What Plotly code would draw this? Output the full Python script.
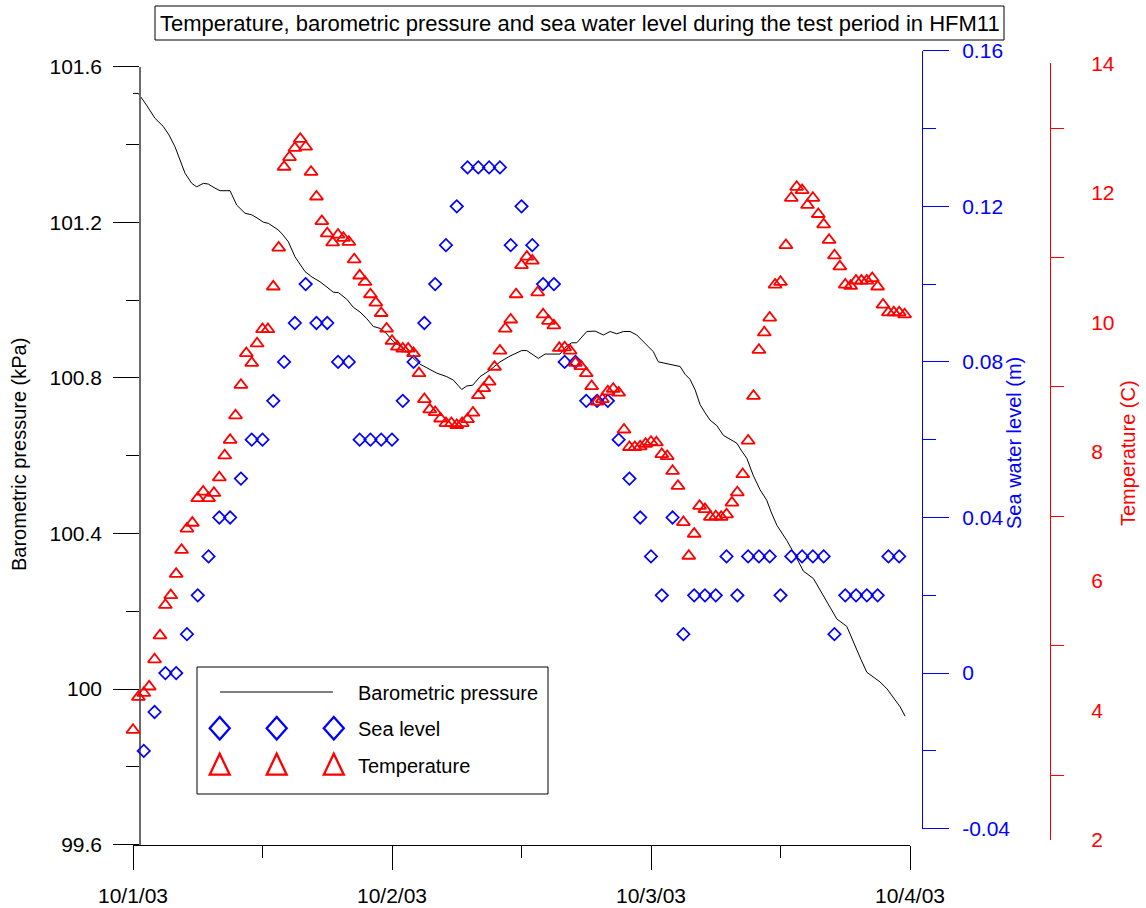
import pandas as pd
import plotly.graph_objects as go

# ---------------- data ----------------
START = pd.Timestamp("2003-10-01 00:00")

# Barometric pressure (kPa), logged as a trace: hours since start / value
pressure_hours = [
    0.0, 0.5, 1.3, 2.04, 2.81, 3.34, 3.89, 4.36, 4.82, 5.44, 5.9, 6.52, 6.98, 7.51,
    8.06, 8.99, 9.61, 10.38, 11.0, 11.49, 12.08, 12.54, 12.97, 13.47, 13.9, 14.39,
    15.01, 15.48, 15.94, 16.59, 17.33, 17.98, 18.56, 19.03, 19.81, 20.42, 21.04,
    21.66, 22.27, 22.89, 23.45, 24.12, 24.75, 25.37, 25.95, 26.6, 27.68, 28.15,
    29.07, 29.69, 30.46, 30.93, 31.48, 32.16, 33.09, 34.01, 34.94, 36.02, 36.49,
    37.07, 37.56, 38.18, 39.57, 40.19, 40.65, 41.12, 42.05, 42.82, 43.59, 44.21,
    44.83, 45.44, 46.06, 46.68, 47.61, 48.22, 48.68, 49.46, 50.7, 51.16, 51.62,
    52.09, 52.55, 53.01, 53.48, 54.1, 54.71, 55.33, 55.95, 56.35, 56.88, 57.46,
    58.11, 58.73, 59.13, 59.66, 60.58, 61.35, 62.12, 63.05, 63.98, 64.6, 65.22,
    66.14, 66.54, 67.07, 67.47, 68.0, 69.23, 69.88, 70.46, 71.09, 71.55,
]
pressure_kpa = [
    101.531, 101.531, 101.499, 101.467, 101.446, 101.424, 101.394, 101.360, 101.326,
    101.300, 101.291, 101.300, 101.298, 101.289, 101.281, 101.281, 101.244, 101.223,
    101.219, 101.211, 101.200, 101.197, 101.190, 101.180, 101.167, 101.150, 101.111,
    101.090, 101.073, 101.059, 101.047, 101.033, 101.020, 101.019, 101.002, 100.981,
    100.969, 100.952, 100.932, 100.927, 100.915, 100.893, 100.882, 100.868, 100.851,
    100.835, 100.820, 100.812, 100.803, 100.794, 100.770, 100.779, 100.781, 100.803,
    100.820, 100.841, 100.856, 100.870, 100.870, 100.859, 100.850, 100.861, 100.861,
    100.882, 100.890, 100.890, 100.919, 100.920, 100.910, 100.919, 100.913, 100.919,
    100.919, 100.910, 100.884, 100.867, 100.841, 100.837, 100.829, 100.809, 100.796,
    100.769, 100.731, 100.710, 100.691, 100.677, 100.652, 100.642, 100.632, 100.614,
    100.593, 100.550, 100.512, 100.485, 100.455, 100.421, 100.382, 100.344, 100.303,
    100.284, 100.239, 100.211, 100.180, 100.161, 100.134, 100.102, 100.075, 100.043,
    100.018, 100.000, 99.979, 99.954, 99.930,
]

# Sea water level (m), hourly from 01:00 on 10/1/03
sea_level_m = [
    -0.02, -0.01, 0.00, 0.00, 0.01, 0.02, 0.03, 0.04, 0.04, 0.05,
    0.06, 0.06, 0.07, 0.08, 0.09, 0.10, 0.09, 0.09, 0.08, 0.08,
    0.06, 0.06, 0.06, 0.06, 0.07, 0.08, 0.09, 0.10, 0.11, 0.12,
    0.13, 0.13, 0.13, 0.13, 0.11, 0.12, 0.11, 0.10, 0.10, 0.08,
    0.08, 0.07, 0.07, 0.07, 0.06, 0.05, 0.04, 0.03, 0.02, 0.04,
    0.01, 0.02, 0.02, 0.02, 0.03, 0.02, 0.03, 0.03, 0.03, 0.02,
    0.03, 0.03, 0.03, 0.03, 0.01, 0.02, 0.02, 0.02, 0.02, 0.03, 0.03,
]

# Temperature (C), every 30 minutes from 00:00 on 10/1/03
temperature_c = [
    3.70, 4.21, 4.27, 4.37, 4.79, 5.16, 5.63, 5.78, 6.11, 6.48,
    6.81, 6.90, 7.28, 7.38, 7.28, 7.36, 7.60, 7.94, 8.18, 8.56,
    9.03, 9.52, 9.37, 9.67, 9.89, 9.89, 10.55, 11.15, 12.40, 12.55,
    12.69, 12.83, 12.71, 12.32, 11.94, 11.56, 11.37, 11.23, 11.35, 11.30,
    11.24, 10.97, 10.72, 10.62, 10.43, 10.30, 10.14, 9.90, 9.71, 9.62,
    9.59, 9.59, 9.52, 9.21, 8.81, 8.65, 8.61, 8.51, 8.44, 8.44,
    8.41, 8.44, 8.50, 8.60, 8.87, 8.98, 9.08, 9.31, 9.56, 9.90,
    10.04, 10.43, 10.88, 11.01, 10.95, 10.46, 10.12, 10.02, 9.95, 9.60,
    9.61, 9.56, 9.37, 9.32, 9.21, 9.01, 8.77, 8.81, 8.93, 8.97,
    8.91, 8.34, 8.07, 8.07, 8.08, 8.12, 8.15, 8.14, 7.96, 7.93,
    7.70, 7.47, 6.91, 6.39, 6.73, 7.16, 7.11, 6.99, 7.00, 6.99,
    7.03, 7.21, 7.37, 7.65, 8.17, 8.86, 9.57, 9.84, 10.07, 10.58,
    10.62, 11.19, 11.92, 12.09, 12.04, 11.81, 11.92, 11.67, 11.51, 11.27,
    11.03, 10.86, 10.58, 10.56, 10.64, 10.64, 10.64, 10.68, 10.55, 10.27,
    10.15, 10.15, 10.15, 10.12,
]

date_ticks = ["2003-10-01", "2003-10-02", "2003-10-03", "2003-10-04"]
date_labels = ["10/1/03", "10/2/03", "10/3/03", "10/4/03"]
half_day_ticks = ["2003-10-01 12:00", "2003-10-02 12:00", "2003-10-03 12:00"]

pressure_ticks = [99.6, 100.0, 100.4, 100.8, 101.2, 101.6]
pressure_labels = ["99.6", "100", "100.4", "100.8", "101.2", "101.6"]
pressure_minor = [99.8, 100.2, 100.6, 101.0, 101.4]

sea_ticks = [-0.04, 0.0, 0.04, 0.08, 0.12, 0.16]
sea_labels = ["-0.04", "0", "0.04", "0.08", "0.12", "0.16"]
sea_minor = [-0.02, 0.02, 0.06, 0.10, 0.14]

temp_ticks = [2, 4, 6, 8, 10, 12, 14]
temp_labels = ["2", "4", "6", "8", "10", "12", "14"]
temp_minor = [3, 5, 7, 9, 11, 13]

# ---------------- layout helpers ----------------
W, H = 1146, 908
FONT = "Arial, Liberation Sans, sans-serif"
BLUE = "#0000ff"
RED = "#ff0000"


def px(x):
    return x / W


def py(y):
    return 1 - y / H


pressure_times = [START + pd.Timedelta(hours=h) for h in pressure_hours]
sea_times = pd.date_range(START + pd.Timedelta(hours=1), periods=len(sea_level_m), freq="1h")
temp_times = pd.date_range(START, periods=len(temperature_c), freq="30min")

fig = go.Figure()

fig.add_trace(go.Scatter(
    x=pressure_times, y=pressure_kpa, mode="lines",
    line=dict(color="black", width=1), xaxis="x", yaxis="y",
    showlegend=False, hoverinfo="skip", cliponaxis=False,
))
fig.add_trace(go.Scatter(
    x=sea_times, y=sea_level_m, mode="markers",
    marker=dict(symbol="diamond-open", size=9.5, color=BLUE, line=dict(color=BLUE, width=1.7)),
    xaxis="x", yaxis="y2", showlegend=False, hoverinfo="skip", cliponaxis=False,
))
fig.add_trace(go.Scatter(
    x=temp_times, y=temperature_c, mode="markers",
    marker=dict(symbol="triangle-up-open", size=11.5, color=RED, line=dict(color=RED, width=1.8)),
    xaxis="x", yaxis="y3", showlegend=False, hoverinfo="skip", cliponaxis=False,
))

tickfont = dict(family=FONT, size=21)

fig.update_layout(
    width=W, height=H,
    margin=dict(l=0, r=0, t=0, b=0, autoexpand=False),
    paper_bgcolor="white",
    plot_bgcolor="rgba(0,0,0,0)",
    font=dict(family=FONT, color="black"),
    xaxis=dict(
        type="date", range=[date_ticks[0], date_ticks[-1]],
        domain=[px(133), px(910)], anchor="y", automargin=False,
        showline=True, linecolor="black", linewidth=1,
        ticks="outside", ticklen=24, tickwidth=1, tickcolor="black",
        tickvals=date_ticks, ticktext=date_labels,
        minor=dict(tickvals=half_day_ticks, ticks="outside", ticklen=12,
                   tickcolor="black", showgrid=False),
        showgrid=False, zeroline=False, tickfont=tickfont,
        ticklabelstandoff=8,
    ),
    yaxis=dict(
        range=[99.6, 101.6], domain=[py(844.6), py(66.6)],
        anchor="free", position=px(140), side="left", automargin=False,
        showline=True, linecolor="#6a6a6a", linewidth=1.5,
        ticks="outside", ticklen=26, tickwidth=1, tickcolor="black",
        tickvals=pressure_ticks, ticktext=pressure_labels,
        minor=dict(tickvals=pressure_minor, ticks="outside", ticklen=13,
                   tickcolor="black", showgrid=False),
        showgrid=False, zeroline=False, tickfont=tickfont,
        ticklabelstandoff=7,
    ),
    yaxis2=dict(
        range=[-0.04, 0.16], domain=[py(828.7), py(50.7)],
        anchor="free", position=px(922), side="right", automargin=False,
        showline=True, linecolor=BLUE, linewidth=1,
        ticks="outside", ticklen=26, tickwidth=1, tickcolor=BLUE,
        tickvals=sea_ticks, ticktext=sea_labels,
        minor=dict(tickvals=sea_minor, ticks="outside", ticklen=13,
                   tickcolor=BLUE, showgrid=False),
        showgrid=False, zeroline=False, tickfont=dict(tickfont, color=BLUE),
        ticklabelstandoff=9,
    ),
    yaxis3=dict(
        range=[2, 14], domain=[py(840), py(63.3)],
        anchor="free", position=px(1050), side="right", automargin=False,
        showline=True, linecolor=RED, linewidth=1,
        ticks="outside", ticklen=26, tickwidth=1, tickcolor="rgba(0,0,0,0)",
        tickvals=temp_ticks, ticktext=temp_labels,
        minor=dict(tickvals=temp_minor, ticks="outside", ticklen=13,
                   tickcolor=RED, showgrid=False),
        showgrid=False, zeroline=False, tickfont=dict(tickfont, color=RED),
        ticklabelstandoff=10,
    ),
)

shapes = []
annotations = []

# title box
shapes.append(dict(type="rect", xref="paper", yref="paper",
                   x0=px(155), x1=px(1004), y0=py(40), y1=py(6),
                   line=dict(color="black", width=1), fillcolor="white"))
annotations.append(dict(
    text="Temperature, barometric pressure and sea water level during the test period in HFM11",
    xref="paper", yref="paper", x=px(579.5), y=py(24), xanchor="center", yanchor="middle",
    showarrow=False, font=dict(family=FONT, size=22, color="black"),
))

# axis titles
annotations.append(dict(text="Barometric pressure (kPa)", xref="paper", yref="paper",
                        x=px(19), y=py(455), textangle=-90, showarrow=False,
                        xanchor="center", yanchor="middle",
                        font=dict(family=FONT, size=20, color="black")))
annotations.append(dict(text="Sea water level (m)", xref="paper", yref="paper",
                        x=px(1014), y=py(443), textangle=-90, showarrow=False,
                        xanchor="center", yanchor="middle",
                        font=dict(family=FONT, size=20, color=BLUE)))
annotations.append(dict(text="Temperature (C)", xref="paper", yref="paper",
                        x=px(1128), y=py(453), textangle=-90, showarrow=False,
                        xanchor="center", yanchor="middle",
                        font=dict(family=FONT, size=20, color=RED)))

# legend box
shapes.append(dict(type="rect", xref="paper", yref="paper",
                   x0=px(197), x1=px(548), y0=py(794), y1=py(667),
                   line=dict(color="black", width=1), fillcolor="white"))
shapes.append(dict(type="line", xref="paper", yref="paper",
                   x0=px(220), x1=px(333), y0=py(692), y1=py(692),
                   line=dict(color="black", width=1)))


def diamond_path(cx, cy, hw, hh):
    return (f"M {px(cx - hw)} {py(cy)} L {px(cx)} {py(cy - hh)} "
            f"L {px(cx + hw)} {py(cy)} L {px(cx)} {py(cy + hh)} Z")


def triangle_path(cx, cy, hw, hh):
    return (f"M {px(cx - hw)} {py(cy + hh)} L {px(cx)} {py(cy - hh)} "
            f"L {px(cx + hw)} {py(cy + hh)} Z")


for cx in (219.7, 276.7, 333.8):
    shapes.append(dict(type="path", xref="paper", yref="paper",
                       path=diamond_path(cx, 728.3, 10.0, 11.3),
                       line=dict(color=BLUE, width=2.3)))
    shapes.append(dict(type="path", xref="paper", yref="paper",
                       path=triangle_path(cx, 764.2, 10.0, 10.5),
                       line=dict(color=RED, width=2.3)))

for label, yc in (("Barometric pressure", 692), ("Sea level", 728), ("Temperature", 765)):
    annotations.append(dict(text=label, xref="paper", yref="paper",
                            x=px(356), y=py(yc + 1), xanchor="left", yanchor="middle",
                            showarrow=False, font=dict(family=FONT, size=20, color="black")))

fig.update_layout(shapes=shapes, annotations=annotations)

fig.write_html("out.html", config={"displayModeBar": False})
